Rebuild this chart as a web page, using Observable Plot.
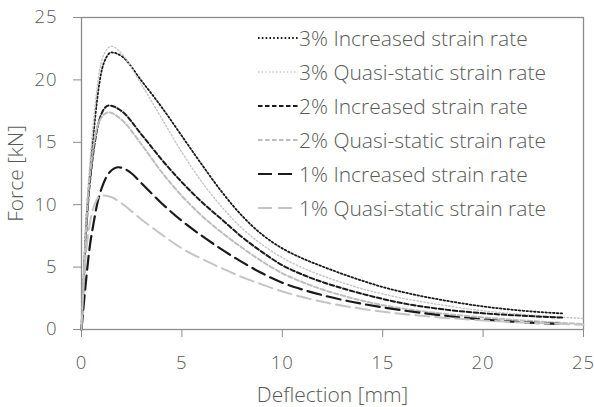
<!DOCTYPE html>
<html><head><meta charset="utf-8">
<script src="https://cdn.jsdelivr.net/npm/d3@7"></script>
<script src="https://cdn.jsdelivr.net/npm/@observablehq/plot@0.6"></script>
<style>
body{margin:0;background:#fff;}
#wrap{position:relative;width:594px;height:407px;font-family:"Open Sans",sans-serif;font-weight:300;}
#legend{position:absolute;left:257px;top:21px;}
.row{height:34px;display:flex;align-items:center;font-size:21px;color:#595959;white-space:nowrap}
.row svg{width:42px;height:10px;flex:none}
svg [aria-label$="tick label"] text{letter-spacing:1px}
</style></head><body><div id="wrap"><div id="legend"></div></div>
<script>
const seriesNames = [
  "3% Increased strain rate",
  "3% Quasi-static strain rate",
  "2% Increased strain rate",
  "2% Quasi-static strain rate",
  "1% Increased strain rate",
  "1% Quasi-static strain rate"
];
const xTicks = [0, 5, 10, 15, 20, 25];
const yTicks = [0, 5, 10, 15, 20, 25];

const inc3X = [0, 0.1, 0.25, 0.45, 0.65, 0.85, 1.1, 1.5, 2, 3, 4, 5, 6, 7, 8, 9, 10, 11, 12, 13, 14, 15, 16, 18, 20, 22, 24];
const inc3Y = [0, 4, 9, 13, 16.5, 19.3, 21.3, 22.2, 21.9, 19.9, 17.8, 15.5, 13.2, 11.0, 9.1, 7.6, 6.5, 5.7, 5.05, 4.45, 3.9, 3.4, 3.0, 2.35, 1.85, 1.5, 1.28];

const qs3X = [0, 0.1, 0.25, 0.45, 0.65, 0.85, 1.1, 1.5, 2, 3, 4, 5, 6, 7, 8, 9, 10, 11, 12, 13, 14, 15, 16, 18, 20, 22, 24, 25];
const qs3Y = [0, 4.5, 9.5, 14, 17.5, 20.3, 22, 22.7, 22.1, 19.6, 16.9, 14.2, 11.8, 9.8, 8.1, 6.8, 5.75, 4.95, 4.3, 3.75, 3.25, 2.85, 2.5, 1.95, 1.5, 1.2, 0.98, 0.88];

const inc2X = [0, 0.15, 0.3, 0.5, 0.75, 1, 1.35, 2, 3, 4, 5, 6, 7, 8, 9, 10, 11, 12, 13, 14, 15, 16, 18, 20, 22, 24];
const inc2Y = [0, 5, 9.5, 13, 15.8, 17.3, 17.95, 17.5, 15.6, 13.6, 11.8, 10.2, 8.8, 7.4, 6.2, 5.15, 4.4, 3.8, 3.3, 2.85, 2.45, 2.1, 1.62, 1.3, 1.1, 0.95];

const qs2X = [0, 0.15, 0.3, 0.5, 0.75, 1, 1.35, 2, 3, 4, 5, 6, 7, 8, 9, 10, 11, 12, 13, 14, 15, 16, 18, 20, 22, 24, 25];
const qs2Y = [0, 5.5, 10, 13.5, 16, 17, 17.4, 16.8, 14.8, 12.6, 10.7, 9.1, 7.75, 6.55, 5.45, 4.5, 3.8, 3.2, 2.72, 2.3, 1.95, 1.68, 1.27, 0.97, 0.72, 0.52, 0.44];

const inc1X = [0, 0.2, 0.4, 0.6, 0.8, 1, 1.4, 1.85, 2.5, 3, 4, 5, 6, 7, 8, 9, 10, 11, 12, 13, 14, 15, 16, 18, 20, 22, 24];
const inc1Y = [0, 3.5, 6.5, 8.5, 10.2, 11.3, 12.6, 13.0, 12.5, 11.7, 10.1, 8.7, 7.5, 6.4, 5.4, 4.5, 3.75, 3.2, 2.75, 2.37, 2.05, 1.77, 1.53, 1.12, 0.8, 0.58, 0.43];

const qs1X = [0, 0.1, 0.25, 0.45, 0.7, 1, 1.5, 2, 3, 4, 5, 6, 7, 8, 9, 10, 11, 12, 14, 16, 18, 20, 22, 24, 25];
const qs1Y = [0, 3.5, 6.5, 8.8, 10.2, 10.74, 10.6, 10.1, 8.8, 7.6, 6.5, 5.65, 4.9, 4.2, 3.6, 3.05, 2.6, 2.22, 1.65, 1.24, 0.95, 0.73, 0.56, 0.44, 0.39];

const xs = [inc3X, qs3X, inc2X, qs2X, inc1X, qs1X];
const ys = [inc3Y, qs3Y, inc2Y, qs2Y, inc1Y, qs1Y];

// styles (separate from data)
const colors = ["#1a1a1a", "#c4c4c4", "#1a1a1a", "#bdbdbd", "#1a1a1a", "#c4c4c4"];
const widths = [1.8, 1.4, 2, 2, 2.2, 2];
const dashes = ["1.6,2.2", "1.4,2.2", "4.5,2.5", "4.5,2.5", "14,6", "14,6"];

const rows = [];
seriesNames.forEach((name, i) => xs[i].forEach((x, j) => rows.push({series: name, x, y: ys[i][j]})));

const axisColor = "#8c8c8c";
const lines = seriesNames.map((name, i) =>
  Plot.line(rows.filter(d => d.series === name), {
    x: "x", y: "y", stroke: colors[i], strokeWidth: widths[i],
    strokeDasharray: dashes[i], curve: "monotone-x"
  })
);

const chart = Plot.plot({
  width: 594, height: 407,
  marginLeft: 81, marginRight: 11, marginTop: 17, marginBottom: 78,
  x: {domain: [0, 25]},
  y: {domain: [0, 25]},
  style: {fontFamily: "'Open Sans', sans-serif", fontSize: "18.5px", fontWeight: 300, color: "#595959", background: "white"},
  marks: [
    Plot.frame({stroke: axisColor, strokeWidth: 1.3}),
    Plot.axisX({ticks: xTicks, tickSize: 8, tickPadding: 18, stroke: axisColor, fill: "#595959", label: null}),
    Plot.axisX({ticks: [], tickSize: 0, label: "Deflection [mm]", labelAnchor: "center", labelArrow: "none", labelOffset: 72, fill: "#595959", fontSize: 21}),
    Plot.axisY({ticks: yTicks, tickSize: 8, tickPadding: 16, stroke: axisColor, fill: "#595959", label: null}),
    Plot.axisY({ticks: [], tickSize: 0, label: "Force [kN]", labelAnchor: "center", labelArrow: "none", labelOffset: 73, fill: "#595959", fontSize: 21}),
    ...lines
  ]
});
document.getElementById("wrap").prepend(chart);

const legend = document.getElementById("legend");
seriesNames.forEach((name, i) => {
  const row = document.createElement("div");
  row.className = "row";
  row.innerHTML = `<svg viewBox="0 0 42 10"><line x1="1" x2="41" y1="5" y2="5" stroke="${colors[i]}" stroke-width="${widths[i]}" stroke-dasharray="${dashes[i]}"/></svg><span>${name}</span>`;
  legend.appendChild(row);
});
</script>
</body></html>
